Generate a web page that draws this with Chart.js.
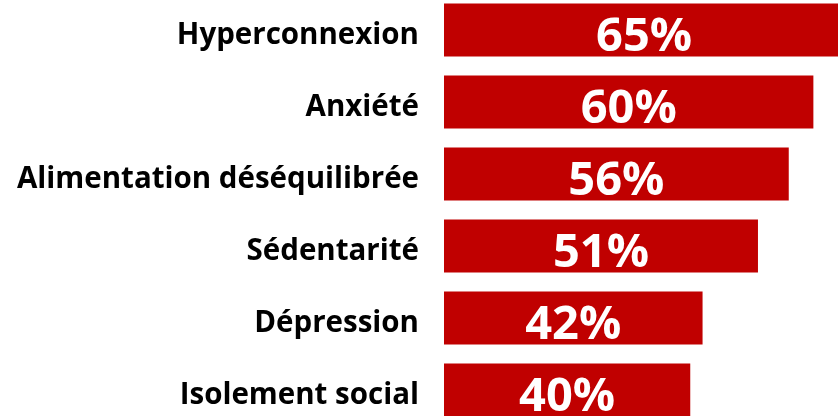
<!DOCTYPE html>
<html>
<head>
<meta charset="utf-8">
<script src="https://cdn.jsdelivr.net/npm/chart.js@4"></script>
<style>
  html, body { margin: 0; padding: 0; background: #fff; overflow: hidden; }
  body { width: 838px; height: 416px; position: relative; }
  #chart { position: absolute; left: 0; top: -6px; }
</style>
</head>
<body>
<canvas id="chart" width="838" height="432"></canvas>
<script>
document.addEventListener('DOMContentLoaded', () => {
    'use strict';

    const categories = ['Hyperconnexion', 'Anxiété', 'Alimentation déséquilibrée', 'Sédentarité', 'Dépression', 'Isolement social'];
    const values = [65, 60, 56, 51, 42, 40];
    const valueLabels = ['65%', '60%', '56%', '51%', '42%', '40%'];

    const BAR_RED = '#C00000';
    const FONT = '"Open Sans", "Noto Sans", sans-serif';

    // white value text centred in each bar
    const barValueLabels = {
        id: 'barValueLabels',
        afterDatasetsDraw(chart) {
            const ctx = chart.ctx;
            const meta = chart.getDatasetMeta(0);
            ctx.save();
            ctx.fillStyle = '#fff';
            ctx.font = 'bold 47px ' + FONT;
            ctx.textAlign = 'center';
            ctx.textBaseline = 'alphabetic';
            meta.data.forEach((bar, i) => {
                const cx = (bar.base + bar.x) / 2;
                ctx.fillText(valueLabels[i], cx, bar.y + 21);
            });
            ctx.restore();
        }
    };

    const ctx = document.getElementById('chart').getContext('2d');
    new Chart(ctx, {
        type: 'bar',
        data: {
            labels: categories,
            datasets: [{
                data: values,
                backgroundColor: BAR_RED,
                borderWidth: 0,
                categoryPercentage: 1,
                barPercentage: 0.736
            }]
        },
        options: {
            indexAxis: 'y',
            responsive: false,
            animation: false,
            layout: { padding: 0 },
            plugins: { legend: { display: false }, tooltip: { enabled: false } },
            scales: {
                x: { display: false, min: 0, max: 64 },
                y: {
                    grid: { display: false, drawTicks: false },
                    border: { display: false },
                    ticks: {
                        color: '#000',
                        padding: 25,
                        labelOffset: 6,
                        font: { family: FONT, size: 29.5, weight: 'bold' }
                    },
                    afterFit(scale) {
                        scale.width = 444;
                        scale.paddingTop = 0;
                        scale.paddingBottom = 0;
                    }
                }
            }
        },
        plugins: [barValueLabels]
    });
});
</script>
</body>
</html>
